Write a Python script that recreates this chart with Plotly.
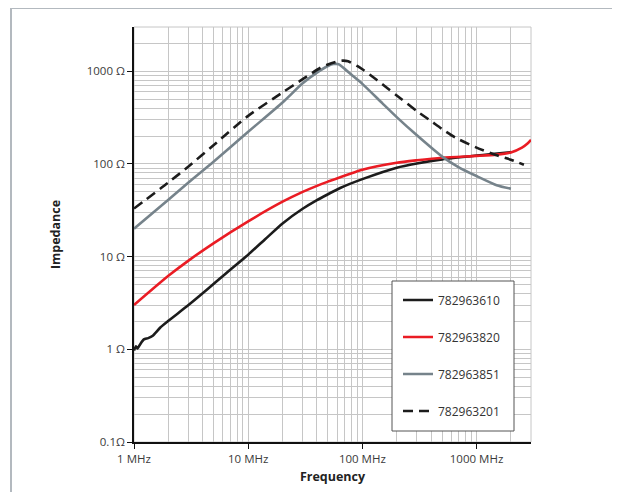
import plotly.graph_objects as go

# ---- data (MHz, Ohm) ----
freq_610 = [1, 1.04, 1.07, 1.13, 1.22, 1.33, 1.46, 1.7, 2, 3, 4.5, 6.3, 10, 14, 20, 30, 40, 50, 64,
            100, 200, 300, 500, 1000, 1300, 2000]
imp_610 = [0.97, 1.08, 1.02, 1.13, 1.28, 1.32, 1.4, 1.72, 2.03, 3.0, 4.55, 6.5, 10.5, 15.3, 22.8, 32.8, 40.7, 47.1, 55,
           68.5, 91, 101, 112, 123, 127, 134]

freq_820 = [1, 2, 3, 5, 10, 20, 30, 40, 50, 100, 200, 300, 500, 1000, 1500, 2000, 2500, 2780, 3000]
imp_820 = [3.0, 6.2, 9.06, 14.0, 24.0, 39.1, 49.9, 58, 64.4, 86.7, 103, 109.4, 116.4, 122, 126, 133, 150, 165, 182]

freq_851 = [1, 2, 3, 5, 10, 20, 30, 40, 50, 56, 62, 70, 80, 100, 150, 200, 292, 500, 700,
            1000, 1500, 2000]
imp_851 = [20, 41, 63, 106, 222, 460, 740, 965, 1140, 1195, 1190, 1060, 920, 730, 450, 320, 210, 120, 92,
           74, 59, 54]

freq_201 = [1, 2, 3, 5, 10, 20, 30, 43, 50, 60, 67, 75, 90, 100, 135, 167, 200, 300, 400,
            500, 655, 1000, 1500, 2000, 2600]
imp_201 = [33, 63, 94, 160, 330, 590, 820, 1090, 1180, 1270, 1300, 1280, 1140, 1050, 800, 650, 548, 372, 290,
           238, 192, 150, 124, 111, 98]

names = ["782963610", "782963820", "782963851", "782963201"]

x_major = [1, 10, 100, 1000]
x_labels = ["1 MHz", "10 MHz", "100 MHz", "1000 MHz"]
y_major = [0.1, 1, 10, 100, 1000]
y_labels = ["0.1Ω", "1 Ω", "10 Ω", "100 Ω", "1000 Ω"]

x_minor = [m * 10 ** e for e in range(0, 4) for m in range(2, 10) if m * 10 ** e <= 3000]
y_minor = [round(m * 10.0 ** e, 6) for e in range(-1, 4) for m in range(2, 10) if m * 10.0 ** e <= 3000]

OFF = 8  # page body margin of the html page
W, H = 620 - OFF, 492 - OFF
L, R, T, B = 134 - OFF, 531 - OFF, 27 - OFF, 442 - OFF  # plot area pixel box (figure coords)


def px(xp):
    return (xp - OFF - L) / (R - L)


def py(yp):
    return (B - (yp - OFF)) / (B - T)


styles = [
    dict(color="#1c1c1c", width=2.6),
    dict(color="#ea1c24", width=2.6),
    dict(color="#76838b", width=2.6),
    dict(color="#1c1c1c", width=2.6, dash="10px,6px"),
]
data = [(freq_610, imp_610), (freq_820, imp_820), (freq_851, imp_851), (freq_201, imp_201)]

fig = go.Figure()
for (f, z), n, st in zip(data, names, styles):
    fig.add_trace(go.Scatter(x=f, y=z, name=n, mode="lines", line=st,
                             line_shape="spline", line_smoothing=0.6, legendgroup=n))

grid = "#c6c6c6"
tickfont = dict(family="Open Sans", size=11.5, color="#3a3a3a")

fig.update_xaxes(type="log", range=[0, 3.4771], tickvals=x_major, ticktext=x_labels,
                 ticks="outside", ticklen=5, tickcolor="#111", tickwidth=1,
                 showline=True, linecolor="#111", linewidth=1.5,
                 showgrid=True, gridcolor=grid, gridwidth=1, zeroline=False,
                 minor=dict(tickvals=x_minor, showgrid=True, gridcolor=grid, gridwidth=1, ticks=""),
                 tickfont=tickfont,
                 title=dict(text="<b>Frequency</b>", standoff=8,
                            font=dict(family="Open Sans", size=12.5, color="#222")))
fig.update_yaxes(type="log", range=[-1, 3.4771], tickvals=y_major, ticktext=y_labels,
                 ticks="outside", ticklen=5, tickcolor="#111", tickwidth=1,
                 showline=True, linecolor="#111", linewidth=1.5,
                 showgrid=True, gridcolor=grid, gridwidth=1, zeroline=False,
                 minor=dict(tickvals=y_minor, showgrid=True, gridcolor=grid, gridwidth=1, ticks=""),
                 tickfont=tickfont,
                 title=dict(text="<b>Impedance</b>", standoff=23,
                            font=dict(family="Open Sans", size=12.5, color="#222")))

frame = "#b3b9bf"
shapes = [
    dict(type="rect", xref="paper", yref="paper", x0=0, x1=1, y0=0, y1=1,
         line=dict(color=grid, width=1), layer="below"),
    dict(type="line", xref="paper", yref="paper", x0=px(11), x1=px(625), y0=py(8), y1=py(8),
         line=dict(color=frame, width=2)),
    dict(type="line", xref="paper", yref="paper", x0=px(11), x1=px(11), y0=py(8), y1=py(497),
         line=dict(color=frame, width=2)),
    dict(type="rect", xref="paper", yref="paper", x0=px(392), x1=px(514), y0=py(431), y1=py(281),
         line=dict(color="#555", width=1), fillcolor="white", layer="above"),
]

fig.update_layout(
    width=W, height=H,
    margin=dict(l=L, r=W - R, t=T, b=H - B, pad=0, autoexpand=False),
    paper_bgcolor="white", plot_bgcolor="white",
    shapes=shapes,
    showlegend=True,
    legend=dict(x=px(398), y=py(285.5), xanchor="left", yanchor="top",
                bgcolor="rgba(0,0,0,0)", borderwidth=0, tracegroupgap=18,
                font=dict(family="Open Sans", size=12, color="#333")),
)

fig.write_html("out.html")
